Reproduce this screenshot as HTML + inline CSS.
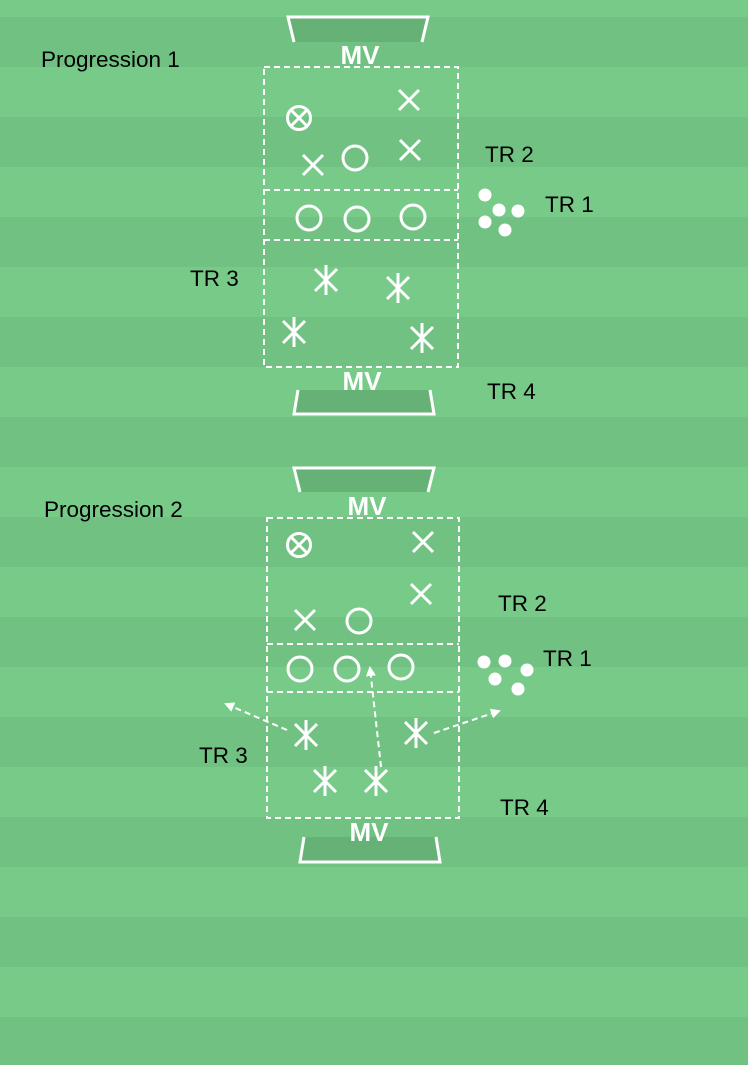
<!DOCTYPE html>
<html><head><meta charset="utf-8"><style>
html,body{margin:0;padding:0;}
body{width:748px;height:1065px;overflow:hidden;}
svg{display:block;}
text{font-family:"Liberation Sans",sans-serif;}
</style></head><body>
<svg width="748" height="1065" viewBox="0 0 748 1065" xmlns="http://www.w3.org/2000/svg">
<defs>
<g id="x"><path d="M-10,-10L10,10M10,-10L-10,10" stroke="#fff" stroke-width="3" fill="none"/></g>
<g id="o"><circle r="12" stroke="#fff" stroke-width="3" fill="none"/></g>
<g id="ox"><circle r="11.5" stroke="#fff" stroke-width="3" fill="none"/><path d="M-8,-8L8,8M8,-8L-8,8" stroke="#fff" stroke-width="3"/></g>
<g id="s"><path d="M0,-15V15M-11,-11L11,11M11,-11L-11,11" stroke="#fff" stroke-width="3" fill="none"/></g>
<marker id="ah" markerWidth="10" markerHeight="10" refX="8" refY="5" orient="auto" markerUnits="userSpaceOnUse"><path d="M0,0L10,5L0,10z" fill="#fff"/></marker>
</defs>
<rect width="748" height="1065" fill="#77ca88"/>
<g fill="#71c282">
<rect y="17" width="748" height="50"/><rect y="117" width="748" height="50"/><rect y="217" width="748" height="50"/>
<rect y="317" width="748" height="50"/><rect y="417" width="748" height="50"/><rect y="517" width="748" height="50"/>
<rect y="617" width="748" height="50"/><rect y="717" width="748" height="50"/><rect y="817" width="748" height="50"/>
<rect y="917" width="748" height="50"/><rect y="1017" width="748" height="50"/>
</g>
<!-- Progression 1 -->
<polygon points="288,17 428,17 422,42 294,42" fill="#66b276"/>
<path d="M294,42L288,17H428L422,42" stroke="#fff" stroke-width="3" fill="none"/>
<text x="360" y="64" text-anchor="middle" font-size="26" font-weight="bold" fill="#fff">MV</text>
<g stroke="#fff" stroke-width="2" stroke-dasharray="6,4" fill="none">
<rect x="264" y="67" width="194" height="300"/>
<path d="M264,190H458M264,240H458"/>
</g>
<polygon points="298,390 430,390 434,414 294,414" fill="#66b276"/>
<path d="M298,390L294,414H434L430,390" stroke="#fff" stroke-width="3" fill="none"/>
<text x="362" y="390" text-anchor="middle" font-size="26" font-weight="bold" fill="#fff">MV</text>
<use href="#ox" x="299" y="118"/>
<use href="#x" x="409" y="100"/><use href="#x" x="410" y="150"/><use href="#x" x="313" y="165"/>
<use href="#o" x="355" y="158"/>
<use href="#o" x="309" y="218"/><use href="#o" x="357" y="219"/><use href="#o" x="413" y="217"/>
<g fill="#fff"><circle cx="485" cy="195" r="6.5"/><circle cx="499" cy="210" r="6.5"/><circle cx="518" cy="211" r="6.5"/><circle cx="485" cy="222" r="6.5"/><circle cx="505" cy="230" r="6.5"/></g>
<use href="#s" x="326" y="280"/><use href="#s" x="398" y="288"/><use href="#s" x="294" y="332"/><use href="#s" x="422" y="338"/>
<g font-size="22.5" fill="#000">
<text x="41" y="67">Progression 1</text>
<text x="485" y="162">TR 2</text>
<text x="545" y="212">TR 1</text>
<text x="190" y="286">TR 3</text>
<text x="487" y="399">TR 4</text>
</g>
<!-- Progression 2 -->
<polygon points="294,468 434,468 428,492 300,492" fill="#66b276"/>
<path d="M300,492L294,468H434L428,492" stroke="#fff" stroke-width="3" fill="none"/>
<text x="367" y="515" text-anchor="middle" font-size="26" font-weight="bold" fill="#fff">MV</text>
<g stroke="#fff" stroke-width="2" stroke-dasharray="6,4" fill="none">
<rect x="267" y="518" width="192" height="300"/>
<path d="M267,644H459M267,692H459"/>
</g>
<polygon points="304,837 436,837 440,862 300,862" fill="#66b276"/>
<path d="M304,837L300,862H440L436,837" stroke="#fff" stroke-width="3" fill="none"/>
<text x="369" y="841" text-anchor="middle" font-size="26" font-weight="bold" fill="#fff">MV</text>
<use href="#ox" x="299" y="545"/>
<use href="#x" x="423" y="542"/><use href="#x" x="421" y="594"/><use href="#x" x="305" y="620"/>
<use href="#o" x="359" y="621"/>
<use href="#o" x="300" y="669"/><use href="#o" x="347" y="669"/><use href="#o" x="401" y="667"/>
<g fill="#fff"><circle cx="484" cy="662" r="6.5"/><circle cx="505" cy="661" r="6.5"/><circle cx="527" cy="670" r="6.5"/><circle cx="495" cy="679" r="6.5"/><circle cx="518" cy="689" r="6.5"/></g>
<g stroke="#fff" stroke-width="2" stroke-dasharray="6,4" fill="none" marker-end="url(#ah)">
<path d="M287,730L226,704"/><path d="M381,767L370,668"/><path d="M434,733L499,711"/>
</g>
<use href="#s" x="306" y="735"/><use href="#s" x="416" y="733"/><use href="#s" x="325" y="781"/><use href="#s" x="376" y="781"/>
<g font-size="22.5" fill="#000">
<text x="44" y="517">Progression 2</text>
<text x="498" y="611">TR 2</text>
<text x="543" y="666">TR 1</text>
<text x="199" y="763">TR 3</text>
<text x="500" y="815">TR 4</text>
</g>
</svg>
</body></html>
